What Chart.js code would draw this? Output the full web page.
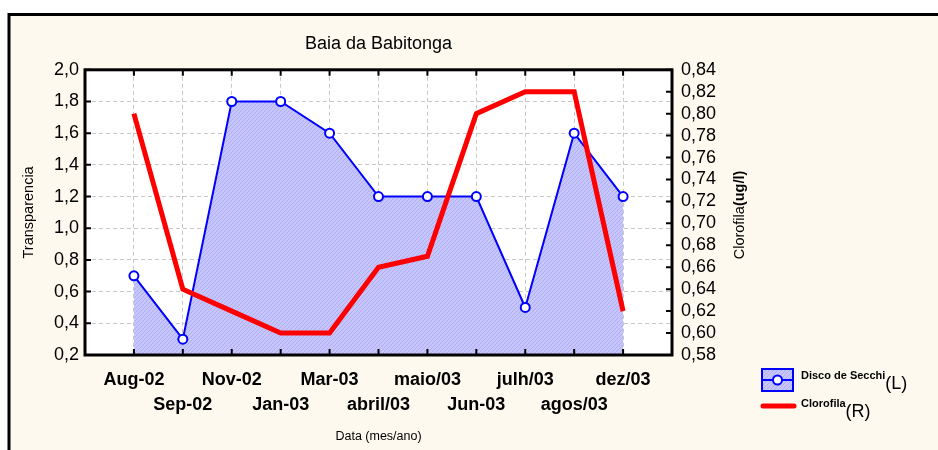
<!DOCTYPE html>
<html>
<head>
<meta charset="utf-8">
<script src="https://cdn.jsdelivr.net/npm/chart.js@4/dist/chart.umd.min.js"></script>
<style>
  html, body { margin: 0; padding: 0; background: #fff; }
  canvas { display: block; }
</style>
</head>
<body>
<canvas id="chart" width="938" height="450"></canvas>
<script>
const months = ['Aug-02', 'Sep-02', 'Nov-02', 'Jan-03', 'Mar-03', 'abril/03', 'maio/03', 'Jun-03', 'julh/03', 'agos/03', 'dez/03'];
const secchi = [0.7, 0.3, 1.8, 1.8, 1.6, 1.2, 1.2, 1.2, 0.5, 1.6, 1.2];
const clorofila = [0.80, 0.64, 0.62, 0.60, 0.60, 0.66, 0.67, 0.80, 0.82, 0.82, 0.62];
const leftTicks = { min: 0.2, max: 2.0, step: 0.2 };
const rightTicks = { min: 0.58, max: 0.84, step: 0.02 };

const FONT = 'Arial, "Liberation Sans", sans-serif';
const cream = '#fdf9ee';

// hatched fill like the original
function makeHatch() {
  const c = document.createElement('canvas');
  c.width = 4; c.height = 4;
  const g = c.getContext('2d');
  g.fillStyle = '#c6c6fd';
  g.fillRect(0, 0, 4, 4);
  g.strokeStyle = '#aeaef4';
  g.lineWidth = 1;
  g.beginPath();
  g.moveTo(0, 4); g.lineTo(4, 0);
  g.moveTo(-1, 1); g.lineTo(1, -1);
  g.moveTo(3, 5); g.lineTo(5, 3);
  g.stroke();
  return g.createPattern(c, 'repeat');
}
const ctx0 = document.getElementById('chart').getContext('2d');
const hatch = makeHatch();

const comma = (v, d) => v.toFixed(d).replace('.', ',');

const framePlugin = {
  id: 'frame',
  beforeDraw(chart) {
    const { ctx, chartArea: a } = chart;
    ctx.save();
    ctx.fillStyle = '#fff';
    ctx.fillRect(0, 0, chart.width, chart.height);
    ctx.fillStyle = cream;
    ctx.fillRect(9, 14, chart.width, chart.height);
    ctx.strokeStyle = '#000';
    ctx.lineWidth = 3;
    ctx.beginPath();
    ctx.moveTo(9, chart.height); ctx.lineTo(9, 14.5); ctx.lineTo(chart.width, 14.5);
    ctx.stroke();
    ctx.fillStyle = '#fff';
    ctx.fillRect(a.left, a.top, a.right - a.left, a.bottom - a.top);
    ctx.restore();
  },
  afterDraw(chart) {
    const { ctx, chartArea: a, scales } = chart;
    ctx.save();
    // inside tick marks
    ctx.strokeStyle = '#000';
    ctx.lineWidth = 2;
    ctx.beginPath();
    months.forEach((m, i) => {
      const x = scales.x.getPixelForValue(i);
      ctx.moveTo(x, a.bottom); ctx.lineTo(x, a.bottom - 6);
      ctx.moveTo(x, a.top); ctx.lineTo(x, a.top + 6);
    });
    scales.y.ticks.forEach(t => {
      const y = scales.y.getPixelForValue(t.value);
      ctx.moveTo(a.left, y); ctx.lineTo(a.left + 6, y);
    });
    scales.y1.ticks.forEach(t => {
      const y = scales.y1.getPixelForValue(t.value);
      ctx.moveTo(a.right, y); ctx.lineTo(a.right - 6, y);
    });
    ctx.stroke();
    // plot border
    ctx.lineWidth = 3;
    ctx.strokeRect(a.left, a.top, a.right - a.left, a.bottom - a.top);

    // right axis title, mixed weight
    ctx.fillStyle = '#000';
    ctx.translate(740, 215);
    ctx.rotate(-Math.PI / 2);
    ctx.textBaseline = 'middle';
    ctx.font = '14.5px ' + FONT;
    const w1 = ctx.measureText('Clorofila').width;
    ctx.font = 'bold 14.5px ' + FONT;
    const w2 = ctx.measureText('(ug/l)').width;
    let sx = -(w1 + w2) / 2;
    ctx.font = '14.5px ' + FONT;
    ctx.fillText('Clorofila', sx, 0);
    ctx.font = 'bold 14.5px ' + FONT;
    ctx.fillText('(ug/l)', sx + w1, 0);
    ctx.setTransform(1, 0, 0, 1, 0, 0);

    // legend
    ctx.fillStyle = hatch;
    ctx.fillRect(762, 369, 31, 22);
    ctx.strokeStyle = '#0000ff';
    ctx.lineWidth = 2;
    ctx.strokeRect(762, 369, 31, 22);
    ctx.beginPath();
    ctx.moveTo(762, 380); ctx.lineTo(793, 380);
    ctx.stroke();
    ctx.beginPath();
    ctx.arc(777.5, 380, 4.5, 0, Math.PI * 2);
    ctx.fillStyle = '#fff';
    ctx.fill();
    ctx.stroke();

    ctx.strokeStyle = '#ff0000';
    ctx.lineWidth = 5;
    ctx.lineCap = 'round';
    ctx.beginPath();
    ctx.moveTo(763, 406); ctx.lineTo(794, 406);
    ctx.stroke();

    ctx.fillStyle = '#000';
    ctx.textBaseline = 'alphabetic';
    ctx.font = 'bold 11px ' + FONT;
    ctx.fillText('Disco de Secchi', 801, 379);
    let lw = ctx.measureText('Disco de Secchi').width;
    ctx.font = '18px ' + FONT;
    ctx.fillText('(L)', 801 + lw, 389);
    ctx.font = 'bold 11px ' + FONT;
    ctx.fillText('Clorofila', 801, 407);
    lw = ctx.measureText('Clorofila').width;
    ctx.font = '18px ' + FONT;
    ctx.fillText('(R)', 801 + lw, 417);
    ctx.restore();
  }
};

new Chart(ctx0, {
  type: 'line',
  data: {
    datasets: [
      {
        label: 'Clorofila',
        data: clorofila.map((v, i) => ({ x: i, y: v })),
        yAxisID: 'y1',
        borderColor: '#ff0000',
        borderWidth: 5,
        pointRadius: 0,
        tension: 0,
        fill: false,
        order: 0
      },
      {
        label: 'Disco de Secchi',
        data: secchi.map((v, i) => ({ x: i, y: v })),
        yAxisID: 'y',
        borderColor: '#0000ff',
        borderWidth: 2,
        backgroundColor: hatch,
        fill: 'start',
        pointRadius: 4.5,
        pointBorderWidth: 2,
        pointBackgroundColor: '#fff',
        pointBorderColor: '#0000ff',
        tension: 0,
        order: 1
      }
    ]
  },
  options: {
    responsive: false,
    animation: false,
    devicePixelRatio: 1,
    layout: { padding: { left: 0, right: 176, top: 0, bottom: 0 } },
    plugins: {
      legend: { display: false },
      tooltip: { enabled: false },
      title: {
        display: true,
        text: 'Baia da Babitonga',
        fullSize: false,
        color: '#000',
        font: { family: FONT, size: 18, weight: 'normal' },
        padding: { top: 33, bottom: 15.2 }
      }
    },
    scales: {
      x: {
        type: 'linear',
        min: -1,
        max: 11,
        afterFit: s => { s.height = 95; },
        ticks: {
          stepSize: 1,
          autoSkip: false,
          maxRotation: 0,
          minRotation: 0,
          padding: 13,
          color: '#000',
          font: { family: FONT, size: 18, weight: 'bold', lineHeight: 25 / 18 },
          callback: v => {
            const i = Math.round(v);
            if (i < 0 || i >= months.length) return '';
            return i % 2 === 0 ? [months[i], ''] : ['', months[i]];
          }
        },
        grid: { color: '#c8c8c8', lineWidth: 1, drawTicks: false },
        border: { display: false, dash: [4, 3] },
        title: {
          display: true,
          text: 'Data (mes/ano)',
          color: '#000',
          font: { family: FONT, size: 12.5 },
          padding: { top: 0, bottom: 5.5 }
        }
      },
      y: {
        position: 'left',
        min: leftTicks.min,
        max: leftTicks.max,
        afterFit: s => { s.width = 85; },
        ticks: {
          stepSize: leftTicks.step,
          autoSkip: false,
          padding: 6,
          color: '#000',
          font: { family: FONT, size: 18 },
          callback: v => comma(v, 1)
        },
        grid: { color: '#c8c8c8', lineWidth: 1, drawTicks: false },
        border: { display: false, dash: [4, 3] },
        title: {
          display: true,
          text: 'Transparencia',
          color: '#000',
          font: { family: FONT, size: 14.5 },
          padding: { top: 20.5, bottom: 0 }
        }
      },
      y1: {
        position: 'right',
        min: rightTicks.min,
        max: rightTicks.max,
        afterFit: s => { s.width = 90; },
        ticks: {
          stepSize: rightTicks.step,
          autoSkip: false,
          padding: 9,
          color: '#000',
          font: { family: FONT, size: 18 },
          callback: v => comma(v, 2)
        },
        grid: { display: false, drawTicks: false },
        border: { display: false }
      }
    }
  },
  plugins: [framePlugin]
});
</script>
</body>
</html>
